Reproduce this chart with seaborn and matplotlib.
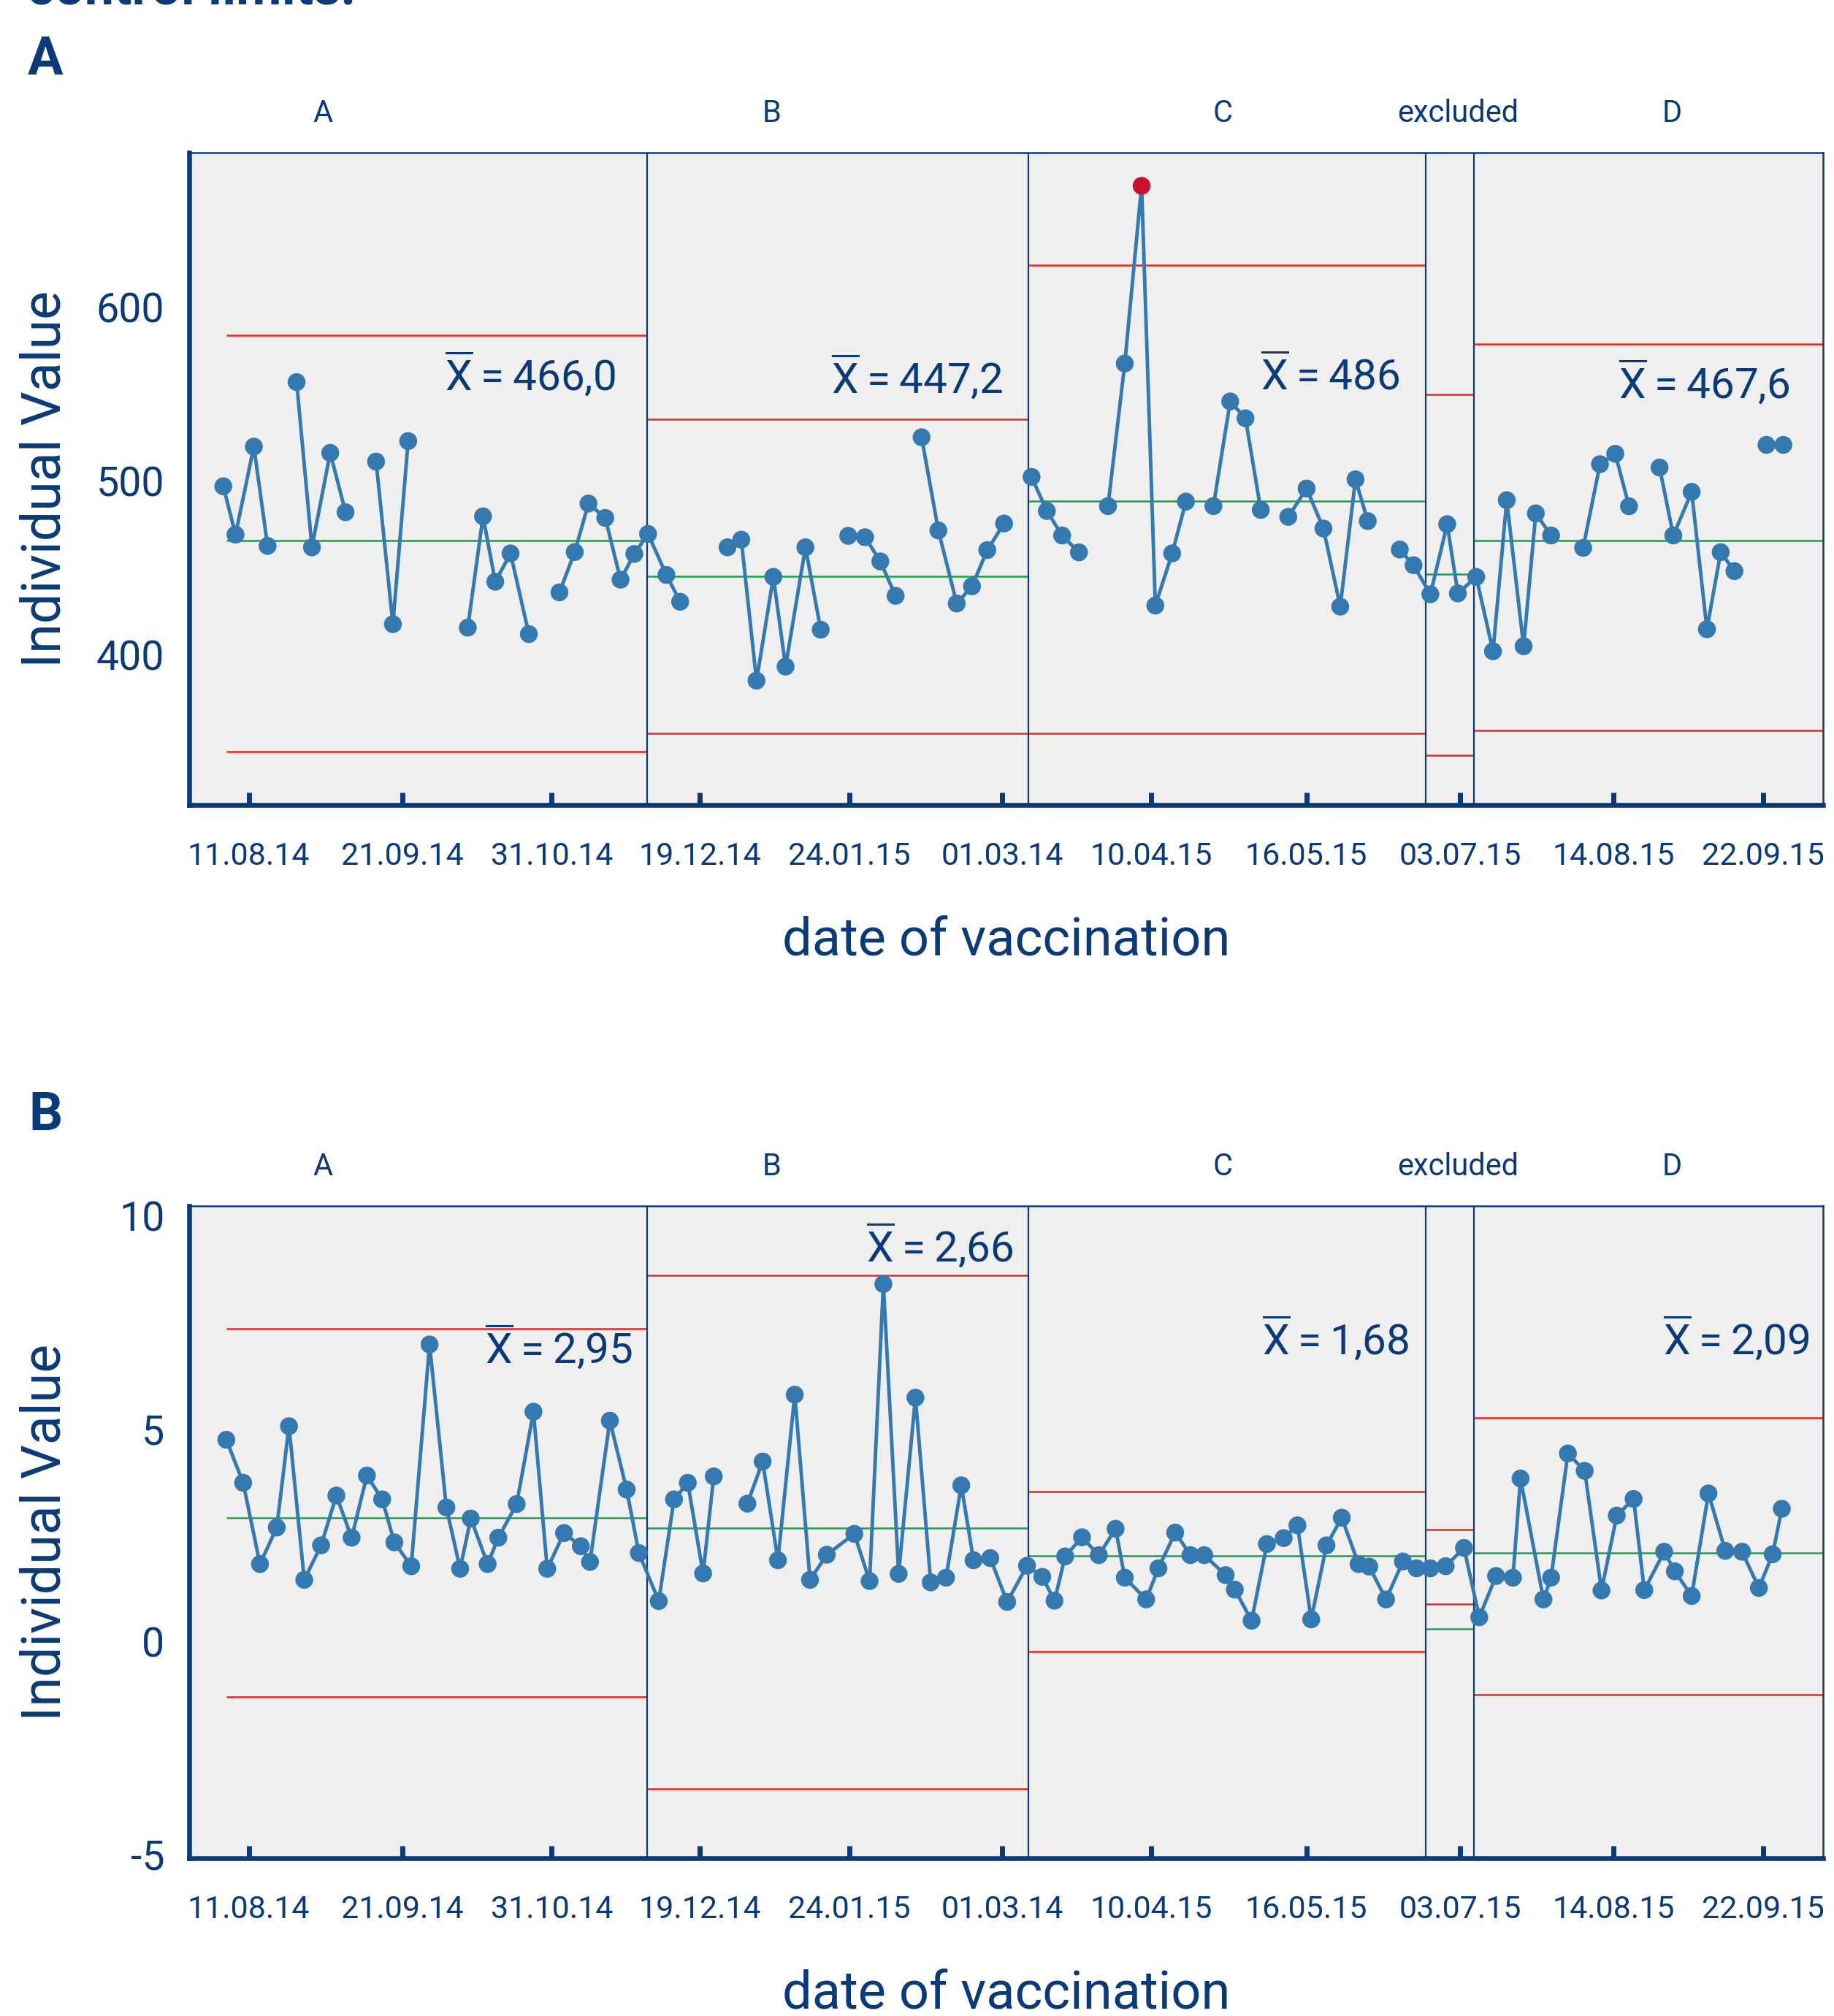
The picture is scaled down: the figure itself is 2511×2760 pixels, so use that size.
import numpy as np
import pandas as pd
import seaborn as sns
import matplotlib
matplotlib.use('Agg')
from matplotlib import pyplot as plt

# x axis: observation scale, labelled with vaccination dates
date_labels = ['11.08.14', '21.09.14', '31.10.14', '19.12.14', '24.01.15', '01.03.14',
               '10.04.15', '16.05.15', '03.07.15', '14.08.15', '22.09.15']
date_pos = [2.67, 12.74, 22.49, 32.2, 41.99, 51.97, 61.74, 71.88, 81.96, 91.99, 101.76]

phase_names = ['A', 'B', 'C', 'excluded', 'D']
phase_edges = [1.2, 28.75, 53.67, 79.71, 82.87, 105.72]

# chart A: individual values
top_x = [1.0, 1.8, 3.0, 3.9, 5.8, 6.8, 8.0, 9.0, 11.0, 12.1, 13.1, 17.0, 18.0, 18.8, 19.8,
         21.0, 23.0, 24.0, 24.9, 26.0, 27.0, 27.9, 28.8, 30.0, 30.9, 34.0, 34.9, 35.9, 37.0,
         37.8, 39.1, 40.1, 41.9, 43.0, 44.0, 45.0, 46.7, 47.8, 49.0, 50.0, 51.0, 52.1, 53.9,
         54.9, 55.9, 57.0, 58.9, 60.0, 61.1, 62.0, 63.1, 64.0, 65.8, 66.9, 67.9, 68.9, 70.7,
         71.9, 73.0, 74.1, 75.1, 75.9, 78.0, 78.9, 80.0, 81.1, 81.8, 83.0, 84.1, 85.0, 86.1,
         86.9, 87.9, 90.0, 91.1, 92.1, 93.0, 95.0, 95.9, 97.1, 98.1, 99.0, 99.9, 102.0, 103.1]
top_y = [496.8, 469.0, 519.6, 462.5, 556.7, 461.7, 516.0, 481.9, 511.0, 417.5, 522.8, 415.5,
         479.5, 441.9, 458.2, 411.8, 435.8, 459.0, 486.9, 478.6, 443.1, 457.9, 469.4, 445.8,
         430.4, 461.7, 466.1, 385.0, 444.7, 393.1, 461.7, 414.3, 468.3, 467.5, 453.6, 433.8,
         525.0, 471.4, 429.4, 439.3, 460.1, 475.4, 502.2, 482.6, 468.5, 458.8, 485.4, 567.4,
         669.6, 428.2, 458.2, 488.0, 485.4, 545.6, 535.9, 483.2, 479.2, 495.5, 472.5, 427.6,
         500.8, 476.8, 460.4, 451.4, 434.7, 475.0, 435.2, 444.7, 401.9, 488.8, 404.8, 481.2,
         468.5, 461.4, 509.5, 515.5, 485.3, 507.6, 468.5, 493.6, 414.6, 458.9, 448.0, 520.6,
         520.6]
top_breaks = [4.8, 10.0, 15.0, 22.0, 32.5, 41.0, 45.8, 53.0, 58.0, 65.0, 69.8, 77.0, 89.0, 94.0, 101.0]
top_ucl = [583.5, 535.2, 624.0, 549.7, 578.4]
top_cl = [465.5, 445.0, 488.3, 446.4, 465.4]
top_lcl = [344.0, 354.7, 354.7, 342.0, 356.4]
top_means = ['466,0', '447,2', '486', None, '467,6']

# chart B: individual values
bot_x = [1.2, 2.3, 3.4, 4.5, 5.3, 6.3, 7.4, 8.4, 9.4, 10.4, 11.4, 12.2, 13.3, 14.5, 15.6, 16.5,
         17.2, 18.3, 19.0, 20.2, 21.3, 22.2, 23.3, 24.4, 25.0, 26.3, 27.4, 28.2, 29.5, 30.5,
         31.4, 32.4, 33.1, 35.3, 36.3, 37.3, 38.4, 39.4, 40.5, 42.3, 43.3, 44.2, 45.2, 46.3,
         47.3, 48.3, 49.3, 50.1, 51.2, 52.3, 53.6, 54.6, 55.4, 56.1, 57.2, 58.3, 59.4, 60.0,
         61.4, 62.2, 63.3, 64.3, 65.2, 66.6, 67.2, 68.3, 69.3, 70.4, 71.3, 72.2, 73.2, 74.2,
         75.3, 76.0, 77.1, 78.2, 79.1, 80.0, 81.0, 82.2, 83.2, 84.3, 85.4, 85.9, 87.4, 87.9,
         89.0, 90.1, 91.2, 92.2, 93.3, 94.0, 95.3, 96.0, 97.1, 98.2, 99.3, 100.4, 101.5,
         102.4, 103.0]
bot_y = [4.74, 3.73, 1.82, 2.68, 5.06, 1.45, 2.26, 3.43, 2.44, 3.90, 3.34, 2.33, 1.77, 6.98,
         3.15, 1.71, 2.89, 1.82, 2.44, 3.23, 5.40, 1.71, 2.55, 2.24, 1.87, 5.19, 3.57, 2.08,
         0.95, 3.34, 3.73, 1.60, 3.88, 3.24, 4.23, 1.91, 5.80, 1.45, 2.04, 2.53, 1.42, 8.40,
         1.59, 5.73, 1.39, 1.50, 3.67, 1.91, 1.96, 0.93, 1.78, 1.52, 0.96, 2.00, 2.45, 2.03,
         2.65, 1.50, 0.99, 1.72, 2.56, 2.03, 2.03, 1.56, 1.22, 0.49, 2.29, 2.43, 2.73, 0.52,
         2.26, 2.91, 1.82, 1.76, 0.99, 1.88, 1.72, 1.72, 1.77, 2.20, 0.57, 1.54, 1.50, 3.83,
         0.99, 1.50, 4.42, 4.01, 1.20, 2.96, 3.35, 1.21, 2.11, 1.65, 1.07, 3.48, 2.13, 2.11,
         1.26, 2.05, 3.12]
bot_breaks = [34.2]
bot_ucl = [7.35, 8.60, 3.52, 2.64, 5.26]
bot_cl = [2.91, 2.66, 2.02, 0.30, 2.09]
bot_lcl = [-1.30, -3.46, -0.24, 0.88, -1.24]
bot_means = ['2,95', '2,66', '1,68', None, '2,09']

# colours
navy = '#0b3a78'
blue = '#3579b1'
red = '#e42a1d'
green = '#14a447'
flag = '#c4122f'
panel_bg = '#efefef'

sns.set_theme(style='white')
plt.rcParams['font.family'] = ['Roboto', 'DejaVu Sans']
plt.rcParams['mathtext.fontset'] = 'custom'
plt.rcParams['mathtext.rm'] = 'Roboto'
plt.rcParams['mathtext.it'] = 'Roboto'
plt.rcParams['axes.unicode_minus'] = False

# layout bits (label anchors in data coords)
phase_label_x = [7.5, 36.9, 66.4, 81.8, 95.8]
top_mean_xy = [(26.7, 560.9), (52.0, 559.4), (78.0, 559.7), None, (103.5, 556.3)]
bot_mean_xy = [(27.8, 6.90), (52.7, 9.29), (78.6, 7.11), None, (104.8, 7.11)]


def draw_chart(ax, xs, ys, breaks, ucl, cl, lcl, means, mean_xy, ylim, yticks):
    ax.set_facecolor(panel_bg)

    # control limits per phase
    for i in range(len(phase_names)):
        x0, x1 = phase_edges[i], phase_edges[i + 1]
        ax.hlines([ucl[i], lcl[i]], x0, x1, colors=red, lw=1.8, zorder=2)
        ax.hlines(cl[i], x0, x1, colors=green, lw=1.8, zorder=2)
    for e in phase_edges[1:-1]:
        ax.axvline(e, color=navy, lw=1.6, zorder=3)

    df = pd.DataFrame({'obs': xs, 'value': ys})
    df['run'] = np.searchsorted(breaks, df.obs)
    ph = np.searchsorted(phase_edges[1:-1], df.obs)
    hi = np.array(ucl)[ph]
    lo = np.array(lcl)[ph]
    df['state'] = np.where((df.value > hi) | (df.value < lo), 'out', 'in')

    sns.lineplot(data=df, x='obs', y='value', units='run', estimator=None, sort=False,
                 color=blue, lw=3.5, ax=ax, zorder=4)
    sns.scatterplot(data=df, x='obs', y='value', hue='state',
                    palette={'in': blue, 'out': flag}, s=310, linewidth=0,
                    legend=False, ax=ax, zorder=5)

    ax.set_xlim(phase_edges[-1] - 106.97, phase_edges[-1])
    ax.set_ylim(*ylim)
    ax.set_xticks(date_pos)
    ax.set_xticklabels(date_labels)
    ax.set_yticks(yticks)
    ax.tick_params(axis='x', direction='in', length=12, width=5, color=navy,
                   pad=36, labelsize=31, labelcolor=navy, bottom=True)
    ax.tick_params(axis='y', length=0, pad=24, labelsize=40, labelcolor=navy)

    ax.set_xlabel('date of vaccination', fontsize=52, color=navy)
    ax.set_ylabel('Individual Value', fontsize=53, color=navy)
    ax.xaxis.set_label_coords(0.5, -0.208)
    ax.xaxis.label.set_va('center')
    ax.yaxis.set_label_coords(-0.088, 0.5)
    ax.yaxis.label.set_va('center')

    for side in ['left', 'bottom']:
        ax.spines[side].set_linewidth(4.75)
        ax.spines[side].set_color(navy)
    for side in ['top', 'right']:
        ax.spines[side].set_linewidth(1.8)
        ax.spines[side].set_color(navy)
        ax.spines[side].set_visible(True)

    for name, px in zip(phase_names, phase_label_x):
        ax.text(px, 1.06, name, transform=ax.get_xaxis_transform(), ha='center',
                va='center', fontsize=30, color=navy)

    for m, xy in zip(means, mean_xy):
        if m is None:
            continue
        ax.text(xy[0], xy[1], r'$\overline{\mathrm{X}}$' + '\u2009=\u2009' + m, ha='right',
                va='center', fontsize=42, color=navy, zorder=6)


fig = plt.figure(figsize=(25.11, 27.6), dpi=100)
ax1 = fig.add_axes([0.1030, 0.6007, 0.8912, 0.3236])
ax2 = fig.add_axes([0.1030, 0.0781, 0.8912, 0.3236])

draw_chart(ax1, top_x, top_y, top_breaks, top_ucl, top_cl, top_lcl, top_means, top_mean_xy,
           (313.5, 688.7), [400, 500, 600])
draw_chart(ax2, bot_x, bot_y, bot_breaks, bot_ucl, bot_cl, bot_lcl, bot_means, bot_mean_xy,
           (-5.1, 10.23), [-5, 0, 5, 10])

# heading above the figure is cut off in the source image too
fig.text(0.0147, 1 - 6 / 2760, 'control limits:', fontsize=52, fontweight='bold',
         color=navy, ha='left', va='baseline')
fig.text(0.0247, 0.970, 'A', fontsize=52, fontweight='bold', color=navy, ha='center', va='center')
fig.text(0.0247, 0.4467, 'B', fontsize=52, fontweight='bold', color=navy, ha='center', va='center')

fig.savefig('out.png', dpi=100)
